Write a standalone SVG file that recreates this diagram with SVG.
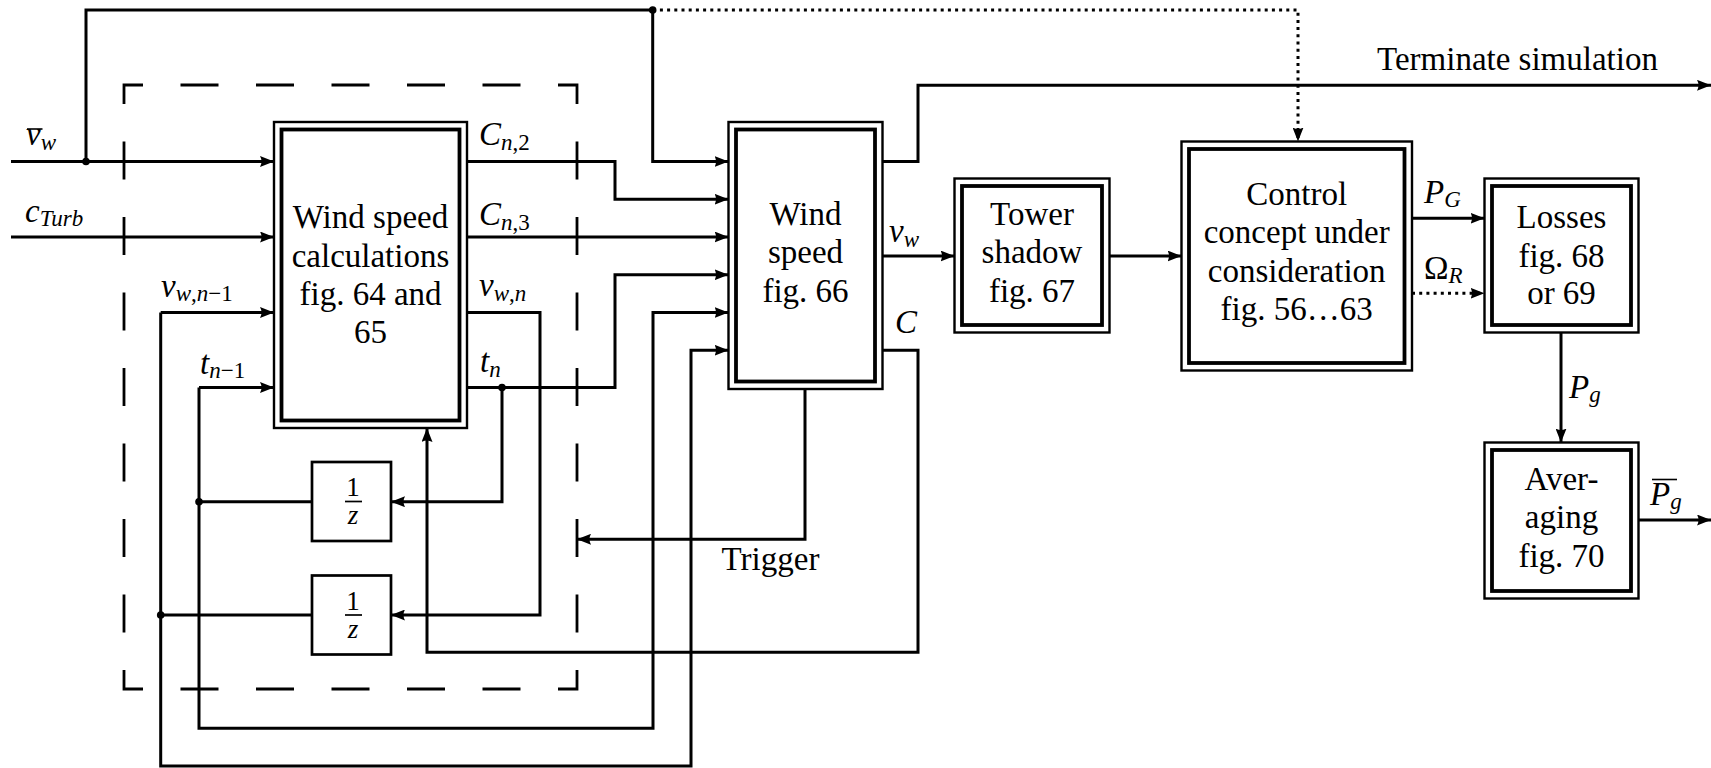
<svg xmlns="http://www.w3.org/2000/svg" width="1711" height="768" viewBox="0 0 1711 768" font-family="'Liberation Serif', 'Times New Roman', serif">
<style>
.ln{fill:none;stroke:#000;stroke-width:3}
.arr{marker-end:url(#ah)}
.dt{stroke-dasharray:3 4.2;stroke-width:3}
.outer{fill:none;stroke:#000;stroke-width:2.4}
.inner{fill:none;stroke:#000;stroke-width:3.8}
.box{fill:none;stroke:#000;stroke-width:2.7}
.t{font-family:"Liberation Serif",serif;font-size:33px;text-anchor:middle;fill:#000}
.m{font-family:"Liberation Serif",serif;font-style:italic;font-size:33px;fill:#000}
.s{font-size:23px}
.u{font-style:normal}
.jd{fill:#000}
.ov{stroke:#000;stroke-width:1.6}
</style>
<defs>
<marker id="ah" viewBox="0 0 14 11" refX="14" refY="5.5" markerWidth="14" markerHeight="11" markerUnits="userSpaceOnUse" orient="auto">
<path d="M0,0 L14,5.5 L0,11 Q3,5.5 0,0 z" fill="#000"/>
</marker>
</defs>

<g id="dashed-frame">
<rect x="124" y="85" width="453" height="604" fill="none" stroke="#000" stroke-width="2.8" stroke-dasharray="38 37.5" stroke-dashoffset="19"/>
</g>

<g id="connectors">
<path class="ln arr" d="M11,161.5 H274"/>
<path class="ln" d="M86,161.5 V10 H652.7"/>
<path class="ln arr" d="M652.7,10 V161.5 H728.5"/>
<path class="ln dt arr" d="M652.7,10 H1298 V141.5"/>
<path class="ln arr" d="M11,237 H274"/>
<path class="ln arr" d="M467,161.5 H615 V199.25 H728.5"/>
<path class="ln arr" d="M467,237 H728.5"/>
<path class="ln arr" d="M467,312.5 H540 V615 H391"/>
<path class="ln arr" d="M467,387.5 H615 V274.75 H728.5"/>
<path class="ln arr" d="M502,387.5 V501.7 H391"/>
<path class="ln" d="M312,501.7 H199"/>
<path class="ln arr" d="M199,387.5 H274"/>
<path class="ln arr" d="M199,387.5 V728.3 H653 V312.5 H728.5"/>
<path class="ln" d="M312,615 H160.7"/>
<path class="ln arr" d="M160.7,312.5 H274"/>
<path class="ln arr" d="M160.7,312.5 V766 H691 V350.25 H728.5"/>
<path class="ln arr" d="M882.5,350.25 H918 V652.3 H427 V428"/>
<path class="ln arr" d="M805,389 V539.3 H577"/>
<path class="ln arr" d="M882.5,161.5 H918 V85.3 H1711"/>
<path class="ln arr" d="M882.5,256 H954.5"/>
<path class="ln arr" d="M1109.5,256 H1181.5"/>
<path class="ln arr" d="M1412,218.3 H1484.5"/>
<path class="ln dt arr" d="M1412,293.3 H1484.5"/>
<path class="ln arr" d="M1561,332.5 V442.5"/>
<path class="ln arr" d="M1638.5,520 H1711"/>
<circle class="jd" cx="86" cy="161.5" r="3.8"/>
<circle class="jd" cx="652.7" cy="10" r="3.8"/>
<circle class="jd" cx="502" cy="387.5" r="3.8"/>
<circle class="jd" cx="199" cy="501.7" r="3.8"/>
<circle class="jd" cx="160.7" cy="615" r="3.8"/>

<text class="m" x="26" y="145">v<tspan class="s" dy="5">w</tspan></text>
<line class="ov" x1="27" y1="129" x2="42.5" y2="129"/>
<text class="m" x="25" y="222">c<tspan class="s" dy="4">Turb</tspan></text>
<text class="m" x="161" y="297">v<tspan class="s" dy="4">w<tspan class="u">,</tspan>n<tspan class="u">−1</tspan></tspan></text>
<text class="m" x="200" y="374">t<tspan class="s" dy="4">n<tspan class="u">−1</tspan></tspan></text>
<text class="m" x="479" y="145">C<tspan class="s" dy="5">n<tspan class="u">,2</tspan></tspan></text>
<text class="m" x="479" y="225">C<tspan class="s" dy="5">n<tspan class="u">,3</tspan></tspan></text>
<text class="m" x="479" y="296">v<tspan class="s" dy="5">w<tspan class="u">,</tspan>n</tspan></text>
<text class="m" x="480" y="372">t<tspan class="s" dy="5">n</tspan></text>
<text class="m" x="889" y="241.5">v<tspan class="s" dy="5">w</tspan></text>
<text class="m" x="895" y="333">C</text>
<text class="t" x="770.5" y="570">Trigger</text>
<text class="t" x="1517.5" y="70">Terminate simulation</text>
<text class="m" x="1424" y="203">P<tspan class="s" dy="4">G</tspan></text>
<text class="m" x="1424" y="279"><tspan class="u">Ω</tspan><tspan class="s" dy="4">R</tspan></text>
<text class="m" x="1569" y="398">P<tspan class="s" dy="4">g</tspan></text>
<text class="m" x="1650" y="505">P<tspan class="s" dy="4">g</tspan></text>
<line class="ov" x1="1652" y1="479.5" x2="1677" y2="479.5"/>
</g>

<g id="node-wind-speed-calc">
<rect class="outer" x="274" y="122" width="193" height="306"/>
<rect class="inner" x="281.5" y="129.5" width="178" height="291"/>
<text class="t" x="370.5" y="228">Wind speed</text>
<text class="t" x="370.5" y="266.5">calculations</text>
<text class="t" x="370.5" y="305">fig. 64 and</text>
<text class="t" x="370.5" y="343.3">65</text>
</g>

<g id="node-delay-1">
<rect class="box" x="312" y="462" width="79" height="79"/>
<text class="t" x="353" y="496" style="font-size:27px">1</text>
<line x1="345" y1="501.5" x2="362" y2="501.5" stroke="#000" stroke-width="1.7"/>
<text class="m" x="353" y="524" style="font-size:27px;text-anchor:middle">z</text>
</g>

<g id="node-delay-2">
<rect class="box" x="312" y="575.5" width="79" height="79"/>
<text class="t" x="353" y="609.5" style="font-size:27px">1</text>
<line x1="345" y1="615" x2="362" y2="615" stroke="#000" stroke-width="1.7"/>
<text class="m" x="353" y="637.5" style="font-size:27px;text-anchor:middle">z</text>
</g>

<g id="node-wind-speed">
<rect class="outer" x="728.5" y="122" width="154" height="267"/>
<rect class="inner" x="736" y="129.5" width="139" height="252"/>
<text class="t" x="805.5" y="225">Wind</text>
<text class="t" x="805.5" y="263.3">speed</text>
<text class="t" x="805.5" y="301.7">fig. 66</text>
</g>

<g id="node-tower-shadow">
<rect class="outer" x="954.5" y="178.5" width="155" height="154"/>
<rect class="inner" x="962" y="186" width="140" height="139"/>
<text class="t" x="1032" y="225">Tower</text>
<text class="t" x="1032" y="263.3">shadow</text>
<text class="t" x="1032" y="301.7">fig. 67</text>
</g>

<g id="node-control">
<rect class="outer" x="1181.5" y="141.5" width="230.5" height="229"/>
<rect class="inner" x="1189" y="149" width="215.5" height="214"/>
<text class="t" x="1296.7" y="205">Control</text>
<text class="t" x="1296.7" y="243.3">concept under</text>
<text class="t" x="1296.7" y="281.7">consideration</text>
<text class="t" x="1296.7" y="320">fig. 56…63</text>
</g>

<g id="node-losses">
<rect class="outer" x="1484.5" y="178.5" width="154" height="154"/>
<rect class="inner" x="1492" y="186" width="139" height="139"/>
<text class="t" x="1561.5" y="228.3">Losses</text>
<text class="t" x="1561.5" y="266.7">fig. 68</text>
<text class="t" x="1561.5" y="304">or 69</text>
</g>

<g id="node-averaging">
<rect class="outer" x="1484.5" y="442.5" width="154" height="156"/>
<rect class="inner" x="1492" y="450" width="139" height="141"/>
<text class="t" x="1561.5" y="490">Aver-</text>
<text class="t" x="1561.5" y="528.3">aging</text>
<text class="t" x="1561.5" y="566.7">fig. 70</text>
</g>
</svg>
